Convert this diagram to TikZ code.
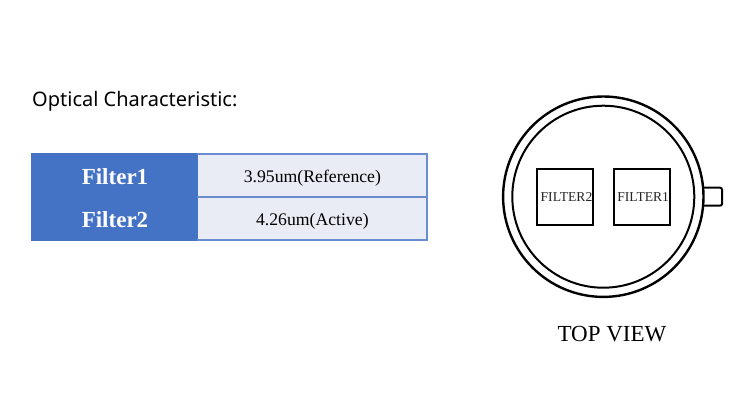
\documentclass[tikz,border=0pt]{standalone}
\usepackage{fontspec}
\setmainfont{Liberation Serif}
\newfontfamily\titlefont{Noto Sans}
\definecolor{headblue}{HTML}{4472C4}
\definecolor{cellfill}{HTML}{E9EBF5}
\definecolor{rulec}{HTML}{6A8CD0}
\newcommand{\cellshift}[2]{\smash{\raisebox{#1}{#2}}}
\tikzset{
  headcell/.style={fill=headblue,draw=none,text=white,font=\fontsize{23}{25}\selectfont\bfseries,inner sep=0pt,minimum width=165.2pt,minimum height=43pt},
  valcell/.style={fill=cellfill,draw=none,text=black,font=\fontsize{17.7}{19}\selectfont,inner sep=0pt,minimum width=229.5pt,minimum height=43pt},
  filterbox/.style={draw=black,line width=2pt,minimum width=56pt,minimum height=55.7pt,inner sep=0pt,font=\fontsize{13.6}{15}\selectfont,text=black!85},
  ring/.style={draw=black,line width=2pt,fill=none},
}
\begin{document}
\begin{tikzpicture}[x=1pt,y=-1pt]
\useasboundingbox[fill=white] (0,0) rectangle (750,400);
\node[anchor=base west,inner sep=0pt,font=\titlefont\fontsize{20}{22}\selectfont] (title) at (32,106) {Optical Characteristic:};
\node[headcell] (h1) at (114.2,175.5) {\hspace*{1.6pt}\cellshift{-8.8pt}{Filter1}};
\node[headcell] (h2) at (114.2,218.5) {\hspace*{1.6pt}\cellshift{-8.8pt}{Filter2}};
\node[valcell] (v1) at (312.4,175.5) {\cellshift{-6.8pt}{3.95um(Reference)}};
\node[valcell] (v2) at (312.4,218.5) {\cellshift{-6.5pt}{4.26um(Active)}};
\draw[headblue,line width=1.6pt] (h1.north west) rectangle (h2.south east);
\draw[rulec,line width=1.6pt] (v1.south west) -- (v1.south east);
\draw[rulec,line width=1.9pt] (h1.north east) -- ([xshift=-0.3pt]v1.north east) -- ([xshift=-0.3pt]v2.south east) -- (h2.south east);
% package
\coordinate (c) at (603.3,196.7);
\draw[ring,rounded corners=2pt] (703.5,187.7) -- (722,187.7) -- (722,205.7) -- (703.5,205.7);
\fill[white] (c) circle (99.8);
\draw[ring,line width=2.4pt] (c) circle (100.2);
\draw[ring] (c) circle (91);
\node[filterbox] (f2) at (565.3,196.9) {\hspace*{2.4pt}FILTER2};
\node[filterbox] (f1) at (642,196.9) {\hspace*{2.4pt}FILTER1};
\node[inner sep=0pt,anchor=base,font=\fontsize{23}{25}\selectfont] (tv) at (612,341) {TOP VIEW};
\end{tikzpicture}
\end{document}
